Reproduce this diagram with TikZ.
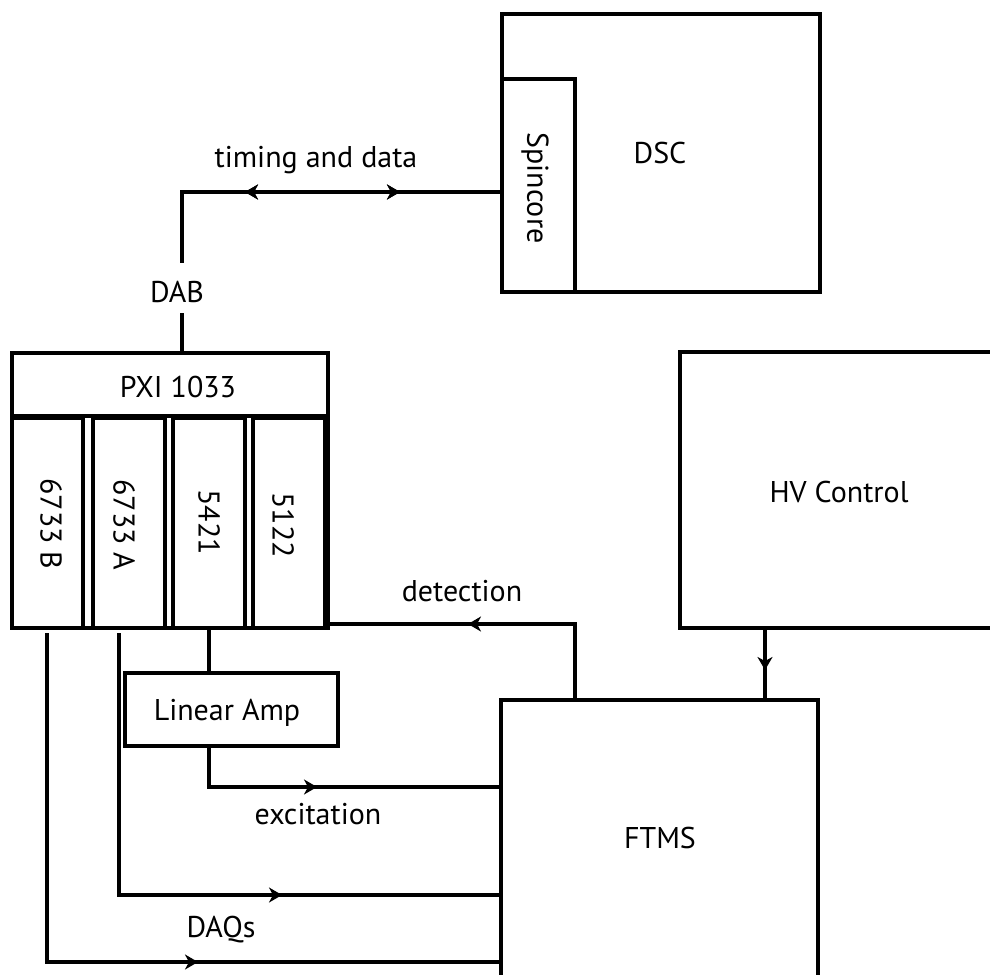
\documentclass[tikz,border=0pt]{standalone}
\usepackage{fontspec}
\setmainfont{PT Sans}
\usetikzlibrary{arrows.meta,decorations.markings}

\newcommand{\lblfont}{\fontsize{30}{36}\selectfont}

\tikzset{
  >={Stealth[length=13pt,width=15pt,inset=4pt]},
  box/.style={draw, line width=3.4pt, inner sep=0pt, outer sep=0pt, fill=white},
  frame/.style={draw, line width=4.5pt, inner sep=0pt, outer sep=0pt},
  txt/.style={inner sep=0pt, font=\lblfont},
  vtxt/.style={inner sep=0pt, font=\lblfont, rotate=-90},
  wire/.style={line width=3.4pt},
  fwdat/.style={postaction={decorate},
    decoration={markings, mark=at position #1 with {\arrow{>}}}},
  revat/.style={postaction={decorate},
    decoration={markings, mark=at position #1 with {\arrowreversed{>}}}},
}

\begin{document}
\begin{tikzpicture}[x=1pt,y=-1pt]
\useasboundingbox (0,0) rectangle (990,974);
\clip (0,0) rectangle (990,974);

% DSC with its Spincore board
\node[box, minimum width=318pt, minimum height=278pt] (dsc) at (661,153) {};
\node[txt, anchor=base] (dsct) at (660,163) {DSC};
\node[box, minimum width=73pt, minimum height=213pt] (spin) at (538.5,185.5) {};
\node[vtxt] (spint) at (535,188) {Spincore};

% PXI 1033 chassis and its four modules
\node[frame, minimum width=316pt, minimum height=275pt] (pxi) at (170,490.5) {};
\node[box, fill=none, minimum width=316pt, minimum height=63pt] (pxihead) at (170,384.5) {};
\node[txt, anchor=base] (pxit) at (178,397) {PXI 1033};
\node[box, minimum width=71pt, minimum height=210pt] (sB) at (47.5,523) {};
\node[box, minimum width=72pt, minimum height=210pt] (sA) at (129,523) {};
\node[box, minimum width=72pt, minimum height=210pt] (s5421) at (209,523) {};
\node[box, minimum width=72pt, minimum height=210pt] (s5122) at (289,523) {};
\node[frame, fill=none, minimum width=316pt, minimum height=275pt] (pxiedge) at (170,490.5) {};
\node[vtxt] (sBt) at (51,524) {6733 B};
\node[vtxt] (sAt) at (124,525) {6733 A};
\node[vtxt] (s5421t) at (209,522) {5421};
\node[vtxt] (s5122t) at (283,525) {5122};

% HV Control, FTMS and the amplifier
\node[box, minimum width=320pt, minimum height=276pt] (hv) at (840,490) {};
\node[txt, anchor=base] (hvt) at (839,502) {HV Control};
\node[box, minimum width=317pt, minimum height=280pt] (ftms) at (659.5,840) {};
\node[txt, anchor=base] (ftmst) at (660,848) {FTMS};
\node[box, minimum width=213pt, minimum height=73pt] (amp) at (231.5,709.5) {};
\node[txt, anchor=base] (ampt) at (227,720) {Linear Amp};

% connector labels
\node[txt, anchor=base] (tdl) at (316,167) {timing and data};
\node[txt, anchor=base] (dab) at (177,302) {DAB};
\node[txt, anchor=base] (detl) at (462,601) {detection};
\node[txt, anchor=base] (excl) at (318,824) {excitation};
\node[txt, anchor=base] (daql) at (221,937) {DAQs};

% bend points and line ends
\coordinate (tdc) at (182,192);
\coordinate (dabtop) at (182,263);
\coordinate (dabbot) at (182,313);
\coordinate (detc) at (575,624);
\coordinate (hvc) at (765,0);
\coordinate (excc) at (209,787);
\coordinate (daqa) at (119,895);
\coordinate (daqb) at (47,962);
\coordinate (sAout) at (119,633);
\coordinate (sBout) at (47,633);

% timing and data link between Spincore and the PXI chassis
\draw[wire, fwdat=257pt, revat=102pt]
  (spin.west |- tdc) -- (tdc) -- (dabtop);
\draw[wire] (dabbot) -- (dabbot |- pxi.north);

% detection signal back to the 5122
\draw[wire, fwdat=183pt] (detc |- ftms.north) -- (detc) -- (pxi.east |- detc);

% high voltage supply
\draw[wire, fwdat=42pt] (hvc |- hv.south) -- (hvc |- ftms.north);

% excitation chain
\draw[wire] (s5421.south) -- (s5421.south |- amp.north);
\draw[wire, fwdat=149pt] (amp.south -| excc) -- (excc) -- (ftms.west |- excc);

% DAQ lines
\draw[wire, fwdat=425pt] (sAout) -- (daqa) -- (ftms.west |- daqa);
\draw[wire, fwdat=480pt] (sBout) -- (daqb) -- (ftms.west |- daqb);
\end{tikzpicture}
\end{document}
